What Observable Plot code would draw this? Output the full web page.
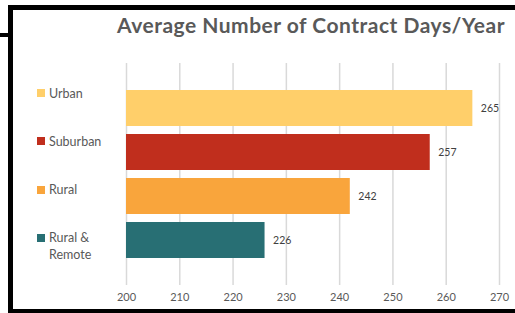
<!DOCTYPE html>
<html>
<head>
<meta charset="utf-8">
<script src="https://cdn.jsdelivr.net/npm/d3@7"></script>
<script src="https://cdn.jsdelivr.net/npm/@observablehq/plot@0.6"></script>
<style>
  html, body { margin: 0; padding: 0; background: #fff; }
  #wrap { position: relative; width: 515px; height: 313px; overflow: hidden; font-family: Lato, "Open Sans", sans-serif; }
  #chart { position: absolute; left: 0; top: 0; }
  #title { position: absolute; left: 0; width: 622px; top: 12px; text-align: center; font-size: 21px; letter-spacing: 0.5px; font-weight: bold; color: #595959; white-space: nowrap; }
  #legend { position: absolute; left: 37px; top: 0; }
  .item { position: absolute; left: 0; display: flex; align-items: flex-start; font-size: 12.5px; line-height: 17px; color: #595959; width: 80px; }
  .sw { width: 8px; height: 8px; margin-top: 4.5px; margin-right: 4px; flex: none; }
  .tx { white-space: pre-line; }
  #border { position: absolute; left: 8px; top: 5px; right: -20px; bottom: 0; border-top: 5px solid #000; border-left: 5px solid #000; border-bottom: 4px solid #000; pointer-events: none; }
  #stub { position: absolute; left: 0; top: 33px; width: 9px; height: 4px; background: #000; }
</style>
</head>
<body>
<div id="wrap">
  <div id="chart"></div>
  <div id="title"></div>
  <div id="legend"></div>
  <div id="border"></div>
  <div id="stub"></div>
</div>
<script>
const titleText = "Average Number of Contract Days/Year";
const categories = ["Urban", "Suburban", "Rural", "Rural & Remote"];
const legendLabels = ["Urban", "Suburban", "Rural", "Rural &\nRemote"];
const values = [265, 257, 242, 226];
const colors = ["#FFCF6A", "#C02E1D", "#F9A53C", "#286F74"];
const xDomain = [200, 270];
const xTicks = [200, 210, 220, 230, 240, 250, 260, 270];

const data = categories.map((c, i) => ({category: c, value: values[i], color: colors[i]}));

const chart = Plot.plot({
  width: 515,
  height: 313,
  marginLeft: 126,
  marginRight: 16,
  marginTop: 63,
  marginBottom: 28,
  style: {background: "transparent", fontFamily: "Lato, 'Open Sans', sans-serif", fontSize: "11px", color: "#595959"},
  x: {domain: xDomain, ticks: xTicks, tickSize: 0, tickPadding: 8, label: null},
  y: {domain: categories, range: [84.5, 262.5], paddingInner: 0.19, paddingOuter: 0.095, axis: null},
  marks: [
    Plot.ruleX(xTicks, {stroke: "#d9d9d9", strokeWidth: 1.5}),
    Plot.barX(data, {x1: () => xDomain[0], x2: "value", y: "category", fill: "color"}),
    Plot.text(data, {x: "value", y: "category", text: d => String(d.value), textAnchor: "start", dx: 8, fill: "#404040", fontSize: 10.5})
  ]
});
document.getElementById("chart").appendChild(chart);
document.getElementById("title").textContent = titleText;

const legend = document.getElementById("legend");
legendLabels.forEach((lab, i) => {
  const item = document.createElement("div");
  item.className = "item";
  item.style.top = (84.5 + i * 48.3) + "px";
  const sw = document.createElement("div");
  sw.className = "sw";
  sw.style.background = colors[i];
  const tx = document.createElement("div");
  tx.className = "tx";
  tx.textContent = lab;
  item.appendChild(sw);
  item.appendChild(tx);
  legend.appendChild(item);
});
</script>
</body>
</html>
